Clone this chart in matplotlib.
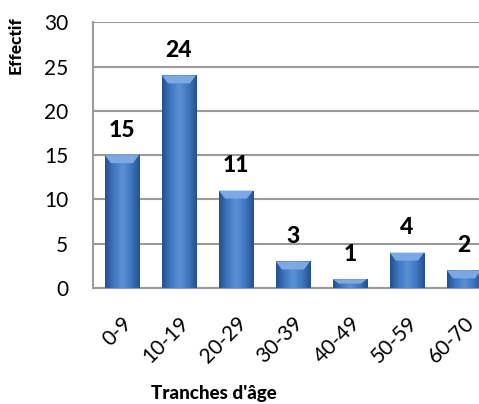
import numpy as np
import matplotlib
matplotlib.use("Agg")
import matplotlib.pyplot as plt
from matplotlib.colors import LinearSegmentedColormap

plt.rcParams['font.family'] = ['Lato', 'DejaVu Sans']

categories = ["0-9", "10-19", "20-29", "30-39", "40-49", "50-59", "60-70"]
counts = [15, 24, 11, 3, 1, 4, 2]

fig = plt.figure(figsize=(4.79, 4.04), dpi=100)
ax = fig.add_axes([0.195, 0.287, 0.833, 0.658])

bars = ax.bar(range(len(categories)), counts, width=0.6, color="#3a6fb8",
              edgecolor="none", zorder=3)

# horizontal gradient inside each bar (cylinder-like)
cmap = LinearSegmentedColormap.from_list(
    "blue", ["#24508f", "#3f78c2", "#5b90d4", "#3f78c2", "#24508f"])
grad = np.linspace(0, 1, 64).reshape(1, -1)
for b in bars:
    x0, w, h = b.get_x(), b.get_width(), b.get_height()
    im = ax.imshow(grad, cmap=cmap, aspect="auto", extent=[x0, x0 + w, 0, h],
                   zorder=4, interpolation="bicubic")
    im.set_clip_path(b)
    # light bevel on top
    bev = min(0.9, h * 0.5)
    ax.fill([x0, x0 + w, x0 + w * 0.82, x0 + w * 0.18],
            [h, h, h - bev, h - bev], color="#7aa9e3", zorder=5, lw=0)
    ax.text(x0 + w / 2, h + 1.6, str(int(h)), ha="center", va="bottom",
            fontsize=16.5, fontweight=900, zorder=6)

ax.set_xlim(-0.5, len(categories) - 0.5)
ax.set_ylim(0, 30)
ax.set_yticks(range(0, 31, 5))
ax.yaxis.grid(True, color="#9a9a9a", linewidth=1.5, zorder=0)
ax.set_axisbelow(True)
for s in ["top", "right"]:
    ax.spines[s].set_visible(False)
for s in ["left", "bottom"]:
    ax.spines[s].set_color("#9a9a9a")
    ax.spines[s].set_linewidth(1.5)
ax.tick_params(axis="y", length=0, labelsize=15, pad=18)
ax.tick_params(axis="x", length=0, labelsize=15, pad=18)
ax.set_xticks(range(len(categories)))
ax.set_xticklabels(categories, rotation=45, ha="right", rotation_mode="anchor")
ax.set_ylabel("Effectif", fontsize=12.5, fontweight=900)
ax.yaxis.set_label_coords(-0.174, 0.913)
ax.set_xlabel("Tranches d'âge", fontsize=13.5, fontweight=900)
ax.xaxis.set_label_coords(0.302, -0.365)

fig.savefig("out.png", dpi=100)
